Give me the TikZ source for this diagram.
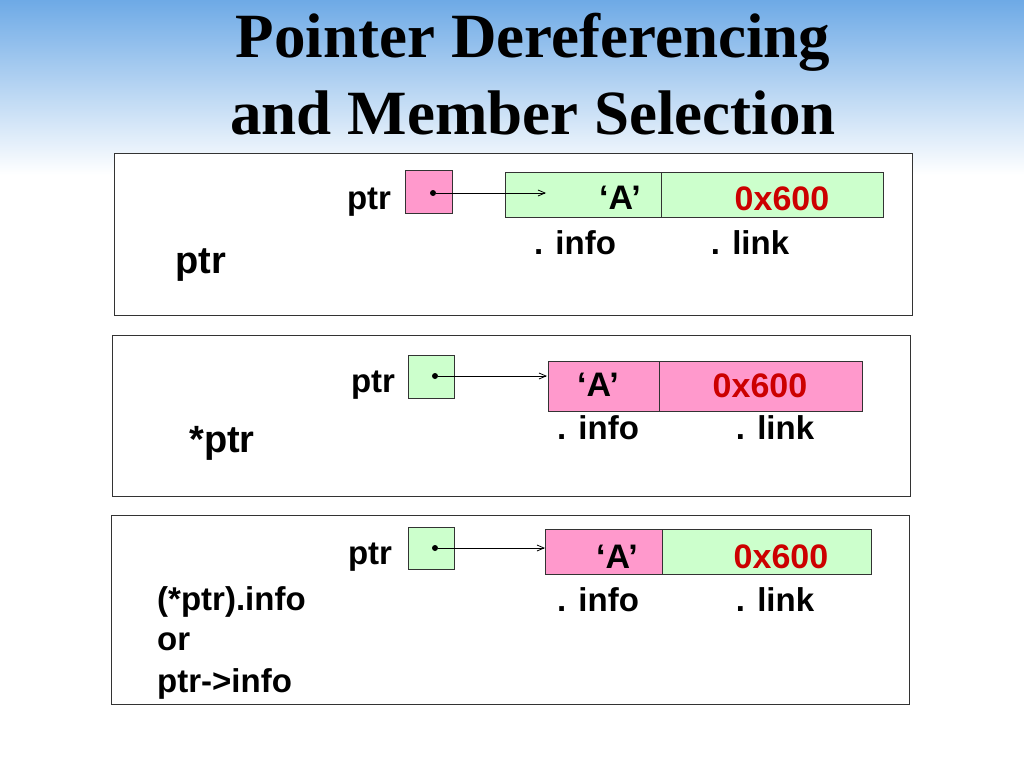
\documentclass[tikz,border=0pt]{standalone}
\usepackage{fontspec}
\setmainfont{Liberation Sans}
\newfontfamily\titlefont{Liberation Serif}
\usetikzlibrary{arrows.meta}
\definecolor{pk}{RGB}{255,153,204}
\definecolor{gn}{RGB}{204,255,204}
\definecolor{sky}{RGB}{110,170,230}
\definecolor{red6}{RGB}{204,0,0}
\tikzset{
 panel/.style={draw=black!80,line width=1pt,fill=white},
 cell/.style={draw=black!80,line width=1pt},
 lbl/.style={font=\fontsize{33}{38}\selectfont\bfseries,inner sep=0pt},
 big/.style={font=\fontsize{38}{42}\selectfont\bfseries,inner sep=0pt},
 val/.style={font=\fontsize{34}{38}\selectfont\bfseries,inner sep=0pt},
 lnk/.style={-{Straight Barb[length=7pt,width=6pt]},line width=0.8pt},
 dotc/.style={circle,fill=black,inner sep=0pt,minimum size=6pt}
}
\begin{document}
\begin{tikzpicture}[x=1pt,y=-1pt]
\useasboundingbox (0,0) rectangle (1024,768);
\shade[top color=sky,bottom color=white] (0,0) rectangle (1024,175);
\node[font=\titlefont\fontsize{63}{66}\selectfont\bfseries] (t1) at (533,42) {Pointer Dereferencing};
\node[font=\titlefont\fontsize{63}{66}\selectfont\bfseries] (t2) at (533,113) {and Member Selection};
% panel 1
\draw[panel] (114,153) rectangle (912,315);
\node[lbl] (p1l) at (369,202) {ptr};
\node[big] (p1b) at (201,265) {ptr};
\draw[cell,fill=pk] (405,170) rectangle (452,213);
\node[dotc] (d1) at (433,193) {};
\draw[cell,fill=gn] (505,172) rectangle (883,217);
\draw[cell] (661,172) -- (661,217);
\coordinate (e1) at (546,193);
\draw[lnk] (d1) -- (e1);
\node[val] (a1) at (620,198) {‘A’};
\node[val,text=red6] (x1) at (782,199) {0x600};
\node[lbl] (i1) at (575,243) {. info};
\node[lbl] (l1) at (750,243) {. link};
% panel 2
\draw[panel] (112,335) rectangle (910,496);
\node[lbl] (p2l) at (373,385) {ptr};
\node[big] (p2b) at (222,443) {*ptr};
\draw[cell,fill=gn] (408,355) rectangle (454,398);
\node[dotc] (d2) at (435,376) {};
\draw[cell,fill=pk] (548,361) rectangle (862,411);
\draw[cell] (659,361) -- (659,411);
\coordinate (e2) at (547,376);
\draw[lnk] (d2) -- (e2);
\node[val] (a2) at (598,385) {‘A’};
\node[val,text=red6] (x2) at (760,386) {0x600};
\node[lbl] (i2) at (598,428) {. info};
\node[lbl] (l2) at (775,428) {. link};
% panel 3
\draw[panel] (111,515) rectangle (909,704);
\node[lbl] (p3l) at (370,557) {ptr};
\draw[cell,fill=gn] (408,527) rectangle (454,569);
\node[dotc] (d3) at (435,548) {};
\draw[cell,fill=pk] (545,529) rectangle (662,574);
\draw[cell,fill=gn] (662,529) rectangle (871,574);
\coordinate (e3) at (545,548);
\draw[lnk] (d3) -- (e3);
\node[val] (a3) at (617,557) {‘A’};
\node[val,text=red6] (x3) at (781,557) {0x600};
\node[lbl] (i3) at (598,600) {. info};
\node[lbl] (l3) at (775,600) {. link};
\node[lbl,anchor=west] (q1) at (157,602) {(*ptr).info};
\node[lbl,anchor=west] (q2) at (157,642) {or};
\node[lbl,anchor=west] (q3) at (157,684) {ptr->info};
\end{tikzpicture}
\end{document}
